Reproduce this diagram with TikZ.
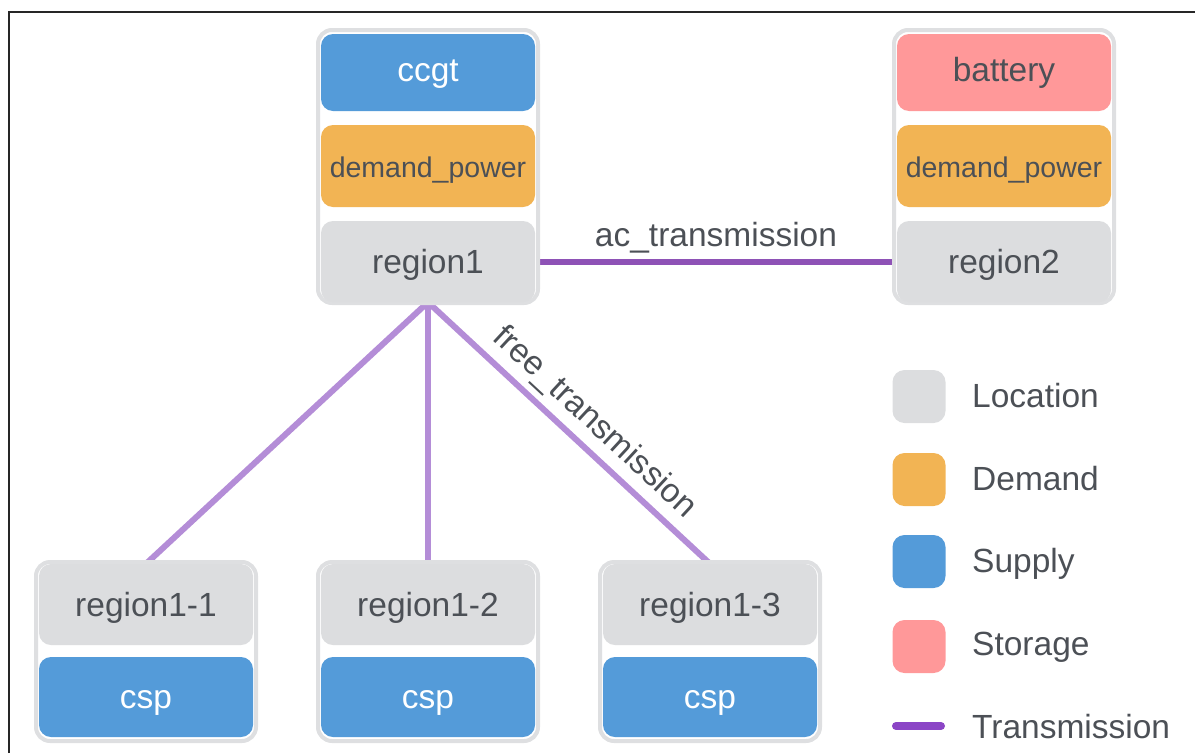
\documentclass[tikz,border=0pt]{standalone}
\usepackage{fontspec}
\setmainfont{Liberation Sans}
\usetikzlibrary{backgrounds}
\definecolor{loc}{HTML}{DCDDDF}
\definecolor{dem}{HTML}{F2B454}
\definecolor{sup}{HTML}{549BD9}
\definecolor{sto}{HTML}{FF9899}
\definecolor{acl}{HTML}{8E52B6}
\definecolor{frl}{HTML}{B48DD7}
\definecolor{legl}{HTML}{8B45C6}
\definecolor{txt}{HTML}{4C5056}
\definecolor{cont}{HTML}{DEDFE1}
\tikzset{
  lbl/.style={font=\fontsize{33.5}{40}\selectfont, text=txt, inner sep=0pt},
  container/.style={draw=cont, line width=4pt, fill=white, rounded corners=14pt, minimum width=220pt, inner sep=0pt},
  item/.style={lbl, rounded corners=12pt, minimum width=214pt, text height=24pt, text depth=7pt},
  lowtext/.style={text height=27pt, text depth=4pt},
  locbox/.style={item, fill=loc, lowtext},
  supbox/.style={item, fill=sup, text=white},
  stobox/.style={item, fill=sto},
  dembox/.style={item, fill=dem, font=\fontsize{28.5}{34}\selectfont, text height=27.5pt, text depth=4pt},
  legsq/.style={rounded corners=12pt, minimum width=53pt, minimum height=53pt, inner sep=0pt},
  legtxt/.style={lbl, anchor=base west},
  acline/.style={draw=acl, line width=6pt},
  freeline/.style={draw=frl, line width=6pt},
}
\begin{document}
\begin{tikzpicture}[x=1pt, y=-1pt]
\useasboundingbox (0,0) rectangle (1195,753);
% frame
\draw[line width=1.5pt, black!85] (9,753) -- (9,12) -- (1195,12);
% top containers
\node[container, minimum height=273pt] (c1) at (428,166.5) {};
\node[supbox, minimum height=77pt] (g1) at (428,72.5) {ccgt};
\node[dembox, minimum height=82pt] (d1) at (428,166) {demand\_power};
\node[locbox, minimum height=81pt] (r1) at (428,261.5) {region1};

\node[container, minimum height=273pt] (c2) at (1004,166.5) {};
\node[stobox, minimum height=77pt] (b2) at (1004,72.5) {battery};
\node[dembox, minimum height=82pt] (d2) at (1004,166) {demand\_power};
\node[locbox, minimum height=81pt] (r2) at (1004,261.5) {region2};

% bottom containers
\node[container, minimum height=179pt] (c11) at (146,651.5) {};
\node[locbox, minimum height=81pt] (r11) at (146,604.5) {region1-1};
\node[supbox, lowtext, minimum height=80pt] (s11) at (146,697) {csp};

\node[container, minimum height=179pt] (c12) at (428,651.5) {};
\node[locbox, minimum height=81pt] (r12) at (428,604.5) {region1-2};
\node[supbox, lowtext, minimum height=80pt] (s12) at (428,697) {csp};

\node[container, minimum height=179pt] (c13) at (710,651.5) {};
\node[locbox, minimum height=81pt] (r13) at (710,604.5) {region1-3};
\node[supbox, lowtext, minimum height=80pt] (s13) at (710,697) {csp};

% connectors
\begin{pgfonlayer}{background}
\draw[acline] (r1.east) -- node[lbl, midway, anchor=base, yshift=15pt] (aclbl) {ac\_transmission} (r2.west);
\draw[freeline] (r1.south) -- (r11.north);
\draw[freeline] (r1.south) -- (r12.north);
\draw[freeline] (r1.south) -- node[lbl, pos=0.53, sloped, anchor=base, yshift=16pt] (frlbl) {free\_transmission} (r13.north);
\end{pgfonlayer}

% legend
\node[legsq, fill=loc] (l1) at (919,396.5) {};
\node[legsq, fill=dem] (l2) at (919,479.5) {};
\node[legsq, fill=sup] (l3) at (919,561.5) {};
\node[legsq, fill=sto] (l4) at (919,646.5) {};
\coordinate (l5a) at (896,726);
\coordinate (l5b) at (941,726);
\draw[draw=legl, line width=8pt, line cap=round] (l5a) -- (l5b);
\node[legtxt] (t1) at (972,407) {Location};
\node[legtxt] (t2) at (972,490) {Demand};
\node[legtxt] (t3) at (972,572) {Supply};
\node[legtxt] (t4) at (972,655) {Storage};
\node[legtxt] (t5) at (972,738) {Transmission};
\end{tikzpicture}
\end{document}
